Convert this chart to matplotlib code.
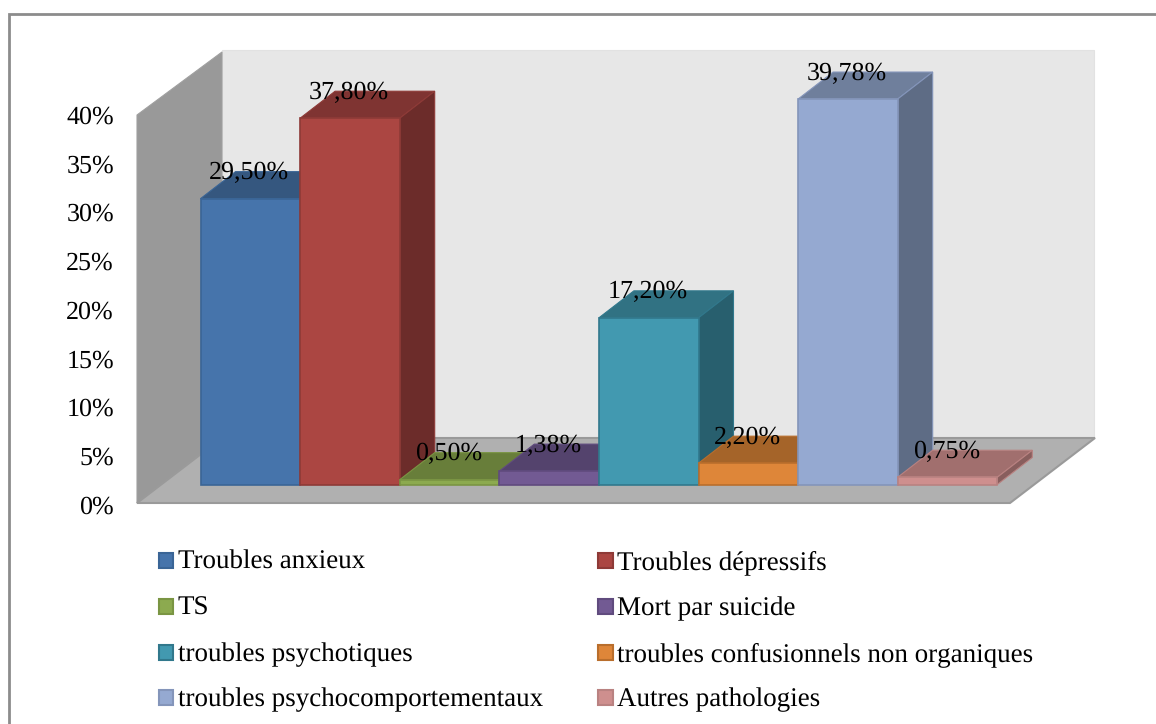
import matplotlib
matplotlib.use("Agg")
import matplotlib.pyplot as plt
from matplotlib.patches import Polygon, Rectangle

categories = ["Troubles anxieux", "Troubles dépressifs", "TS", "Mort par suicide",
              "troubles psychotiques", "troubles confusionnels non organiques",
              "troubles psychocomportementaux", "Autres pathologies"]
values = [29.50, 37.80, 0.50, 1.38, 17.20, 2.20, 39.78, 0.75]
value_labels = ["29,50%", "37,80%", "0,50%", "1,38%", "17,20%", "2,20%", "39,78%", "0,75%"]
ticks = [0, 5, 10, 15, 20, 25, 30, 35, 40]

front_colors = ["#4674AB", "#AB4642", "#8CAA4F", "#725A93", "#4299B0", "#DE8639", "#95A9D1", "#CE8F8E"]
top_colors = ["#35577F", "#7F3432", "#687E3A", "#54436D", "#317283", "#A56429", "#6F7F9C", "#A16F6E"]
side_colors = ["#2C4A6C", "#6C2C2A", "#586B31", "#47395C", "#285F6E", "#8C5522", "#5E6C85", "#885E5D"]
edge_colors = ["#3A6596", "#8E3A37", "#7A9543", "#604B7E", "#31788C", "#B96E2C", "#8495BA", "#B98281"]

W, H = 1156, 724
plt.rcParams["font.family"] = ["Liberation Serif", "DejaVu Serif"]
plt.rcParams["text.hinting"] = "no_hinting"
plt.rcParams["text.hinting_factor"] = 1
fig = plt.figure(figsize=(W / 100, H / 100), dpi=100)

# pixel axes for the chart frame, walls, floor and legend
bg = fig.add_axes([0, 0, 1, 1])
bg.set_xlim(0, W)
bg.set_ylim(H, 0)
bg.axis("off")

# data axes: x is the category slot, y is the percentage on the bar front plane
X0, SLOT = 200.5, 99.6
Y0, PCT = 484.5, 9.69
ax = fig.add_axes([0, 0, 1, 1])
ax.set_xlim(-X0 / SLOT, (W - X0) / SLOT)
ax.set_ylim((Y0 - H) / PCT, Y0 / PCT)
ax.axis("off")
ax.patch.set_alpha(0)
DX, DY = 35 / SLOT, 27 / PCT

bg.add_patch(Rectangle((8.5, 14), 1200, 800, fc="white", ec="#8C8C8C", lw=2))
bg.add_patch(Polygon([(222, 50), (1093.5, 50), (1093.5, 438), (222, 438)], fc="#E7E7E7", ec="#E2E2E2", lw=0.8))
bg.add_patch(Polygon([(137, 115), (222, 52), (222, 438), (137, 503)], fc="#999999", ec="#A0A0A0", lw=0.8))
bg.add_patch(Polygon([(137, 503), (222, 438), (1095, 438), (1010, 503)], fc="#B0B0B0", ec="#9A9A9A", lw=1.5))

for t in ticks:
    bg.text(114, 505 - 9.75 * t + 8.5, f"{t}%", ha="right", va="baseline", fontsize=18.7, color="black")

for i, v in enumerate(values):
    ec = edge_colors[i]
    ax.add_patch(Polygon([(i, v), (i + 1, v), (i + 1 + DX, v + DY), (i + DX, v + DY)],
                         fc=top_colors[i], ec=ec, lw=0.8, alpha=1))
    ax.add_patch(Polygon([(i + 1, 0), (i + 1 + DX, DY), (i + 1 + DX, v + DY), (i + 1, v)],
                         fc=side_colors[i], ec=ec, lw=0.8))
    ax.add_patch(Rectangle((i, 0), 1, v, fc=front_colors[i], ec=ec, lw=1.2))

for i, v in enumerate(values):
    ax.text(i + 0.49, v + 2.0, value_labels[i], ha="center", va="baseline", fontsize=18.8, color="black")

# two column legend, filled row by row
legend_rows = [568, 614, 660, 705]
for i, name in enumerate(categories):
    row, col = i // 2, i % 2
    mx = 158.5 if col == 0 else 598
    bg.add_patch(Rectangle((mx, legend_rows[row] - 15.5), 14.5, 15, fc=front_colors[i], ec=edge_colors[i], lw=1.5))
    bg.text(mx + 19, legend_rows[row] + 1, name, ha="left", va="baseline", fontsize=19.2, color="black")

fig.savefig("out.png", dpi=100)
